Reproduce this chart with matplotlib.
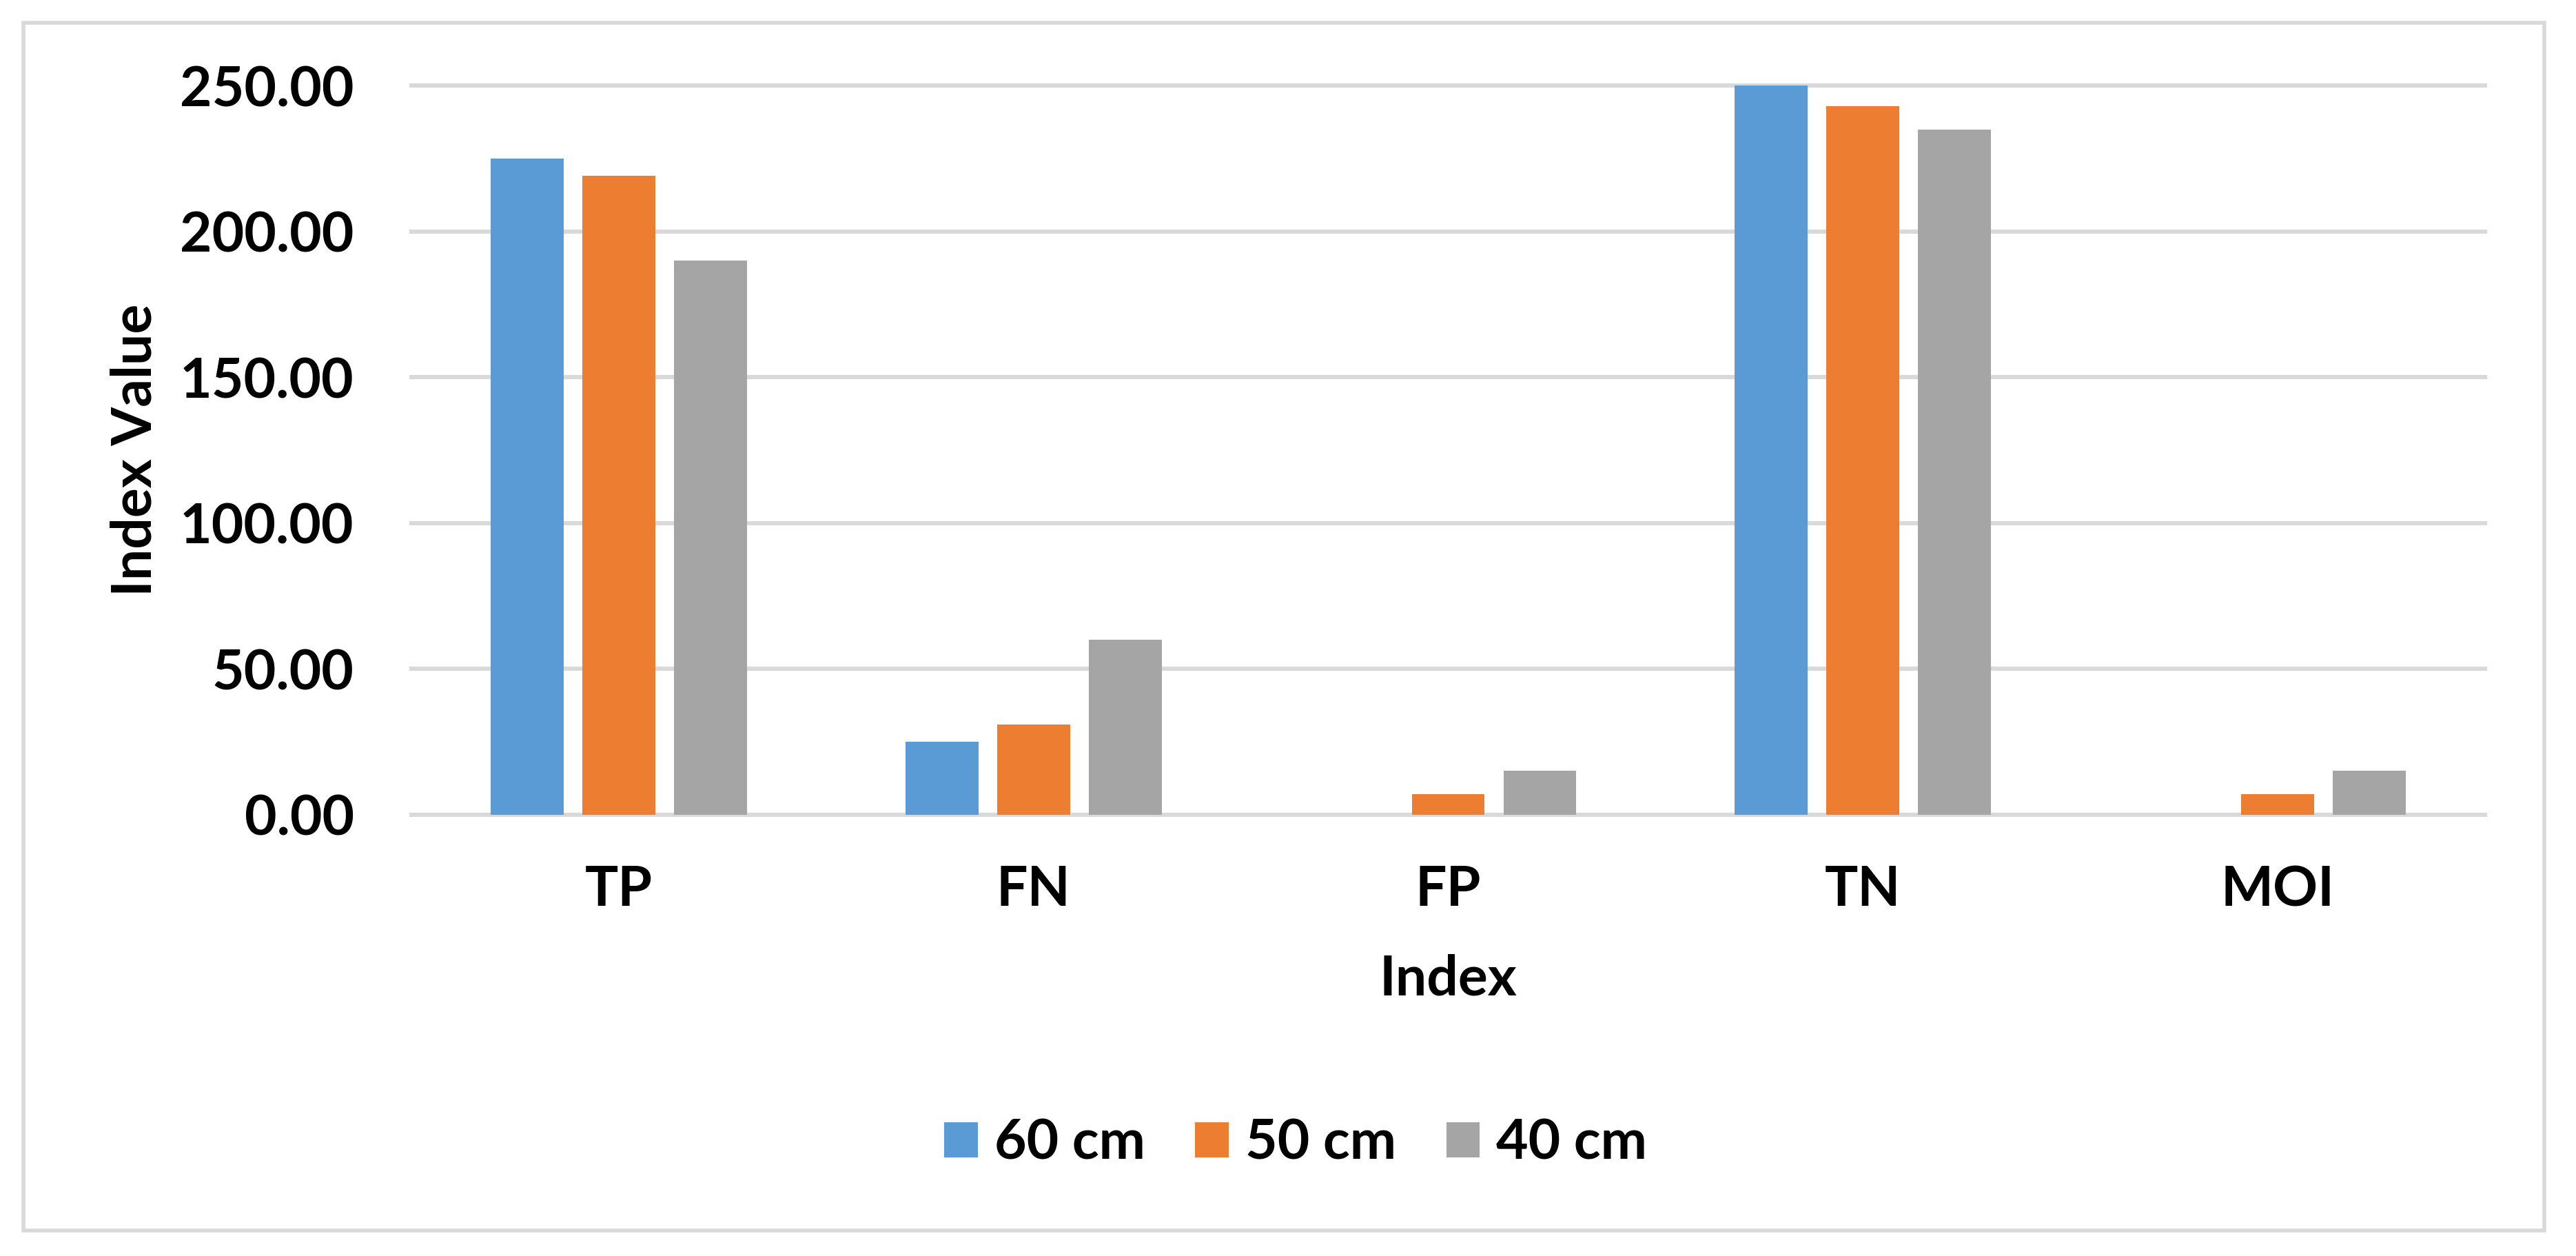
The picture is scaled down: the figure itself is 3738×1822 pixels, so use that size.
import numpy as np
import matplotlib.pyplot as plt
from matplotlib.patches import Rectangle

# values
categories = ["TP", "FN", "FP", "TN", "MOI"]
series_names = ["60 cm", "50 cm", "40 cm"]
vals_60 = [225, 25, 0, 250, 0]
vals_50 = [219, 31, 7, 243, 7]
vals_40 = [190, 60, 15, 235, 15]
yticks = [0, 50, 100, 150, 200, 250]

colors = ["#5B9BD5", "#ED7D31", "#A5A5A5"]

def main():
    plt.rcParams["font.family"] = ["Lato", "DejaVu Sans"]
    plt.rcParams["font.weight"] = "bold"

    fig = plt.figure(figsize=(18.69, 9.11), dpi=200)
    ax = fig.add_axes([0.1597, 0.3513, 0.805, 0.5806])

    x = np.arange(len(categories))
    width = 0.176
    step = 0.221
    for i, (vals, name) in enumerate(zip([vals_60, vals_50, vals_40], series_names)):
        ax.bar(x + (i - 1) * step, vals, width, color=colors[i], label=name, zorder=3)

    ax.set_xlim(-0.5, len(categories) - 0.5)
    ax.set_ylim(0, 250)
    ax.set_yticks(yticks)
    ax.set_yticklabels([f"{v:.2f}" for v in yticks])
    ax.set_xticks(x)
    ax.set_xticklabels(categories)
    ax.tick_params(axis="both", length=0, labelsize=29)
    ax.tick_params(axis="y", pad=30)
    ax.tick_params(axis="x", pad=26)
    for lab in ax.get_xticklabels() + ax.get_yticklabels():
        lab.set_fontweight("bold")

    # light gray gridlines like the excel default
    ax.yaxis.grid(True, color="#D9D9D9", linewidth=2.2, zorder=0)
    for gl in ax.get_ygridlines():
        gl.set_clip_on(False)
    for s in ax.spines.values():
        s.set_visible(False)

    ax.set_xlabel("Index", fontsize=29, fontweight="bold", labelpad=20)
    ax.set_ylabel("Index Value", fontsize=29, fontweight="bold", labelpad=10)

    fig.legend(loc="center", bbox_to_anchor=(0.503, 0.0895), ncol=3, frameon=False,
               handlelength=0.6, handleheight=0.6, handletextpad=0.3,
               columnspacing=0.9, prop={"weight": "bold", "size": 29})

    # outer chart border
    fig.patches.append(Rectangle((34 / 3738, 1 - 1785 / 1822), (3692 - 34) / 3738,
                                 (1785 - 33) / 1822, transform=fig.transFigure,
                                 fill=False, edgecolor="#D9D9D9", linewidth=2))

    fig.savefig("out.png", dpi=200)
    plt.close(fig)

if __name__ == "__main__":
    main()
